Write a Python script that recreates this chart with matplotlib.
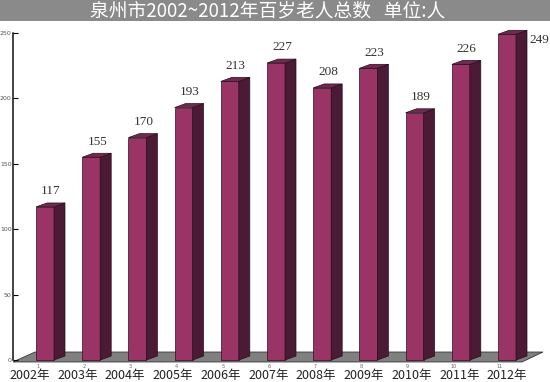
import matplotlib
matplotlib.use("Agg")
import matplotlib.pyplot as plt
from matplotlib.patches import Polygon, Rectangle

years = ["2002年", "2003年", "2004年", "2005年", "2006年", "2007年",
         "2008年", "2009年", "2010年", "2011年", "2012年"]
counts = [117, 155, 170, 193, 213, 227, 208, 223, 189, 226, 249]
yticks = [0, 50, 100, 150, 200, 250]
title = "泉州市2002~2012年百岁老人总数   单位:人"

front_c = "#9a3467"
side_c = "#4b1a34"
top_c = "#70294f"
edge_c = "#2a0d1c"

W, H = 550, 382
fig = plt.figure(figsize=(W / 100, H / 100), dpi=100)

# gray title band
fig.patches.append(Rectangle((0, 1 - 21 / H), 1, 21 / H, transform=fig.transFigure,
                             facecolor="#8a8a8a", edgecolor="none", zorder=0))
fig.text(268 / W, 1 - 10.5 / H, title, color="white", fontsize=13.5,
         family=["Noto Sans CJK SC", "DejaVu Sans"], ha="center", va="center")

# axes: value 0 at y=360px, 250 at y=33px; bar i centred at 45 + 46.2*i px
px_x = 46.2
px_y = 327 / 250
ymin = -2.5
bottom_px = 360 + (-ymin) * px_y
ax = fig.add_axes([13 / W, (H - bottom_px) / H, 535 / W, (bottom_px - 33) / H])
ax.set_xlim((13 - 45) / px_x, (548 - 45) / px_x)
ax.set_ylim(ymin, 250)
ax.patch.set_alpha(0)

n = len(counts)
width = 18 / px_x
dx = 11 / px_x
dy = 4 / px_y

# floor
floor = Polygon([((13 - 45) / px_x, -1.5), ((35 - 45) / px_x, 6.1),
                 (n - 1 + (543 - 507) / px_x, 6.1), (n - 1 + (522 - 507) / px_x, -1.5)],
                closed=True, facecolor="#808080", edgecolor="#333333", lw=0.6,
                zorder=1, clip_on=False)
ax.add_patch(floor)

xs = list(range(n))
ax.bar(xs, counts, width=width, color=front_c, edgecolor=edge_c, linewidth=0.5, zorder=3)
for x, v in zip(xs, counts):
    r = x + width / 2
    l = x - width / 2
    ax.add_patch(Polygon([(r, 0), (r + dx, dy), (r + dx, v + dy), (r, v)], closed=True,
                         facecolor=side_c, edgecolor=edge_c, lw=0.5, zorder=3, clip_on=False))
    ax.add_patch(Polygon([(l, v), (l + dx, v + dy), (r + dx, v + dy), (r, v)], closed=True,
                         facecolor=top_c, edgecolor=edge_c, lw=0.5, zorder=3, clip_on=False))
    if x == n - 1:
        ax.text(r + dx + 0.05, v - 4, str(v), ha="left", va="center", fontsize=9.5,
                family="Liberation Serif", color="#333333")
    else:
        ax.text(x + 0.13, v + 12, str(v), ha="center", va="center", fontsize=9.5,
                family="Liberation Serif", color="#333333")
    # year label and small index number
    ax.text(x - 0.33 + 0.033 * x, -11.5, years[x], ha="center", va="center", fontsize=9,
            family=["Noto Sans CJK SC", "DejaVu Sans"], color="#222222", clip_on=False)
    ax.text(x - 0.15, -5, str(x + 1), ha="center", va="center", fontsize=3.5,
            color="#666666", clip_on=False)

for s in ["top", "right", "bottom"]:
    ax.spines[s].set_visible(False)
ax.spines["left"].set_bounds(0, 250)
ax.spines["left"].set_linewidth(1.1)
ax.spines["left"].set_color("#111111")
ax.set_yticks(yticks)
ax.set_yticklabels([str(t) for t in yticks])
ax.tick_params(axis="y", direction="in", length=3.5, width=0.8, labelsize=4.5,
               labelcolor="#555555", pad=1)
ax.set_xticks([])

fig.savefig("out.png", dpi=100)
